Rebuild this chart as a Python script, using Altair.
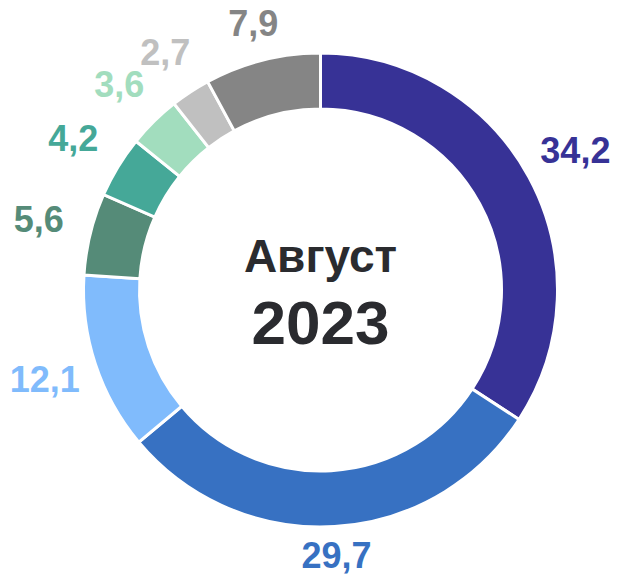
import altair as alt
import pandas as pd

values = [34.2, 29.7, 12.1, 5.6, 4.2, 3.6, 2.7, 7.9]
colors = ["#373296", "#3771C2", "#80BBFC", "#558B78", "#45A898", "#A2DDBE", "#C0C0C0", "#858585"]
center_month = "Август"
center_year = "2023"

W, H = 641, 580

df = pd.DataFrame({
    "idx": list(range(len(values))),
    "value": values,
    "label": [f"{v:.1f}".replace(".", ",") for v in values],
})

color_scale = alt.Scale(domain=list(range(len(values))), range=colors)

ring = alt.Chart(df).mark_arc(
    outerRadius=237, innerRadius=181, stroke="white", strokeWidth=3
).encode(
    theta=alt.Theta("value:Q", stack=True),
    order=alt.Order("idx:Q"),
    color=alt.Color("idx:N", scale=color_scale, legend=None),
)

# label distance: outer radius + gap + half text box projected on the radial direction
labels = alt.Chart(df).transform_joinaggregate(
    total="sum(value)"
).transform_window(
    cum="sum(value)", sort=[alt.SortField("idx")], frame=[None, 0]
).transform_calculate(
    mid="(datum.cum - datum.value / 2) / datum.total * 2 * PI",
).transform_calculate(
    r="252 + 36 * abs(sin(datum.mid)) + 13 * abs(cos(datum.mid))",
).transform_calculate(
    px=f"{W / 2} + datum.r * sin(datum.mid)",
    py=f"{H / 2} - datum.r * cos(datum.mid)",
).mark_text(
    font="Liberation Sans", fontSize=36, fontWeight="bold",
    align="center", baseline="middle",
).encode(
    x=alt.X("px:Q", scale=None, axis=None),
    y=alt.Y("py:Q", scale=None, axis=None),
    text="label:N",
    color=alt.Color("idx:N", scale=color_scale, legend=None),
)

month = alt.Chart(pd.DataFrame({"t": [center_month]})).mark_text(
    font="Liberation Sans", fontSize=46, fontWeight="bold", color="#2a2b2f",
    baseline="middle", dy=-32,
).encode(text="t:N")

year = alt.Chart(pd.DataFrame({"t": [center_year]})).mark_text(
    font="Liberation Sans", fontSize=62, fontWeight="bold", color="#2a2b2f",
    baseline="middle", dy=35,
).encode(text="t:N")

chart = alt.layer(ring, labels, month, year).properties(
    width=W, height=H, padding=0,
    autosize=alt.AutoSizeParams(type="none"),
).configure_view(stroke=None)

chart.save("out.html", embed_options={"renderer": "svg", "actions": False})
